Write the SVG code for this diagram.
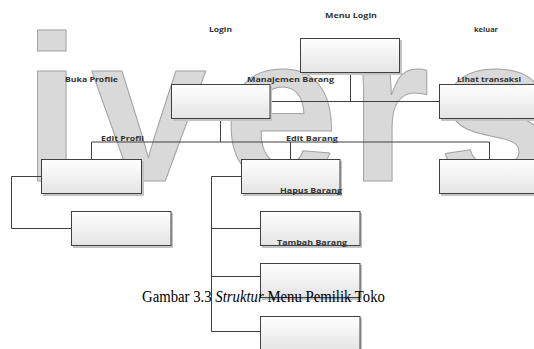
<svg xmlns="http://www.w3.org/2000/svg" width="534" height="349" viewBox="0 0 534 349">
<defs>
<linearGradient id="g" x1="0" y1="0" x2="0" y2="1">
<stop offset="0" stop-color="#ffffff"/>
<stop offset="1" stop-color="#e4e4e4"/>
</linearGradient>
<style>
.wm{font-family:"Liberation Sans",Arial,sans-serif;font-weight:bold;font-size:208px;fill:#d9d9d9;stroke:#a3a3a3;stroke-width:1;stroke-linejoin:round}
.sh{fill:#c4c4c4}
.bx{fill:url(#g);stroke:#404040;stroke-width:1}
.ln{fill:none;stroke:#404040;stroke-width:1}
.lb{font-family:"Open Sans","Liberation Sans",sans-serif;font-weight:bold;font-size:7.5px;fill:#333333}
.cap{font-family:"Liberation Serif","Times New Roman",serif;font-size:16px;fill:#000000}
</style>
</defs>
<rect width="534" height="349" fill="#ffffff"/>
<g id="watermark">
<text class="wm" x="23 91 223 349 438" y="181">ivers</text>
</g>
<g id="connectors">
<path class="ln" d="M350.5 73V101.5M270 101.5H439"/>
<path class="ln" d="M220.5 119V142M91.5 142H489.5M91.5 142V159M290.5 142V159M489.5 142V159"/>
<path class="ln" d="M41 176.5H11.5V228.5H71"/>
<path class="ln" d="M241 176.5H211.5V331.5H260M211.5 228.5H260M211.5 276.5H260"/>
</g>
<g id="login"><text class="lb" x="209" y="32" textLength="23" lengthAdjust="spacingAndGlyphs">Login</text></g>
<g id="keluar"><text class="lb" x="474" y="32" textLength="24" lengthAdjust="spacingAndGlyphs">keluar</text></g>
<g id="menu-login">
<rect class="sh" x="302" y="40" width="100" height="35"/>
<rect class="bx" x="300.5" y="38.5" width="99" height="34"/>
<text class="lb" x="325" y="18" textLength="52" lengthAdjust="spacingAndGlyphs">Menu Login</text>
</g>
<g id="manajemen-barang">
<rect class="sh" x="173" y="86" width="99" height="35"/>
<rect class="bx" x="171.5" y="84.5" width="98.5" height="34"/>
<text class="lb" x="247" y="81.5" textLength="87" lengthAdjust="spacingAndGlyphs">Manajemen Barang</text>
</g>
<g id="buka-profile">
<text class="lb" x="65" y="81.5" textLength="53" lengthAdjust="spacingAndGlyphs">Buka Profile</text>
</g>
<g id="lihat-transaksi">
<rect class="sh" x="441" y="86" width="100" height="35"/>
<rect class="bx" x="439.5" y="84.5" width="100" height="34"/>
<text class="lb" x="457" y="81.5" textLength="64" lengthAdjust="spacingAndGlyphs">Lihat transaksi</text>
</g>
<g id="edit-profil">
<rect class="sh" x="43" y="161" width="101" height="35"/>
<rect class="bx" x="41.5" y="159.5" width="100" height="34"/>
<text class="lb" x="101" y="141" textLength="43" lengthAdjust="spacingAndGlyphs">Edit Profil</text>
</g>
<g id="profil-sub">
<rect class="sh" x="73" y="213" width="100" height="35"/>
<rect class="bx" x="71.5" y="211.5" width="99.5" height="34"/>
</g>
<g id="edit-barang">
<rect class="sh" x="243" y="161" width="99" height="35"/>
<rect class="bx" x="241.5" y="159.5" width="98.5" height="34"/>
<text class="lb" x="286" y="141" textLength="52" lengthAdjust="spacingAndGlyphs">Edit Barang</text>
<text class="lb" x="280" y="193" textLength="62" lengthAdjust="spacingAndGlyphs">Hapus Barang</text>
</g>
<g id="transaksi-sub">
<rect class="sh" x="441" y="161" width="100" height="35"/>
<rect class="bx" x="439.5" y="159.5" width="100" height="34"/>
</g>
<g id="tambah-barang">
<rect class="sh" x="262" y="213" width="100" height="35"/>
<rect class="bx" x="260.5" y="211.5" width="99.5" height="34"/>
<text class="lb" x="277" y="245" textLength="70" lengthAdjust="spacingAndGlyphs">Tambah Barang</text>
</g>
<g id="barang-sub-1">
<rect class="sh" x="262" y="265" width="100" height="35"/>
<rect class="bx" x="260.5" y="263.5" width="99.5" height="34"/>
</g>
<g id="barang-sub-2">
<rect class="sh" x="262" y="318" width="100" height="35"/>
<rect class="bx" x="260.5" y="316.5" width="99.5" height="34"/>
</g>
<g id="caption">
<text class="cap" x="142" y="302" textLength="243" lengthAdjust="spacingAndGlyphs">Gambar 3.3 <tspan font-style="italic">Struktur</tspan> Menu Pemilik Toko</text>
</g>
</svg>
